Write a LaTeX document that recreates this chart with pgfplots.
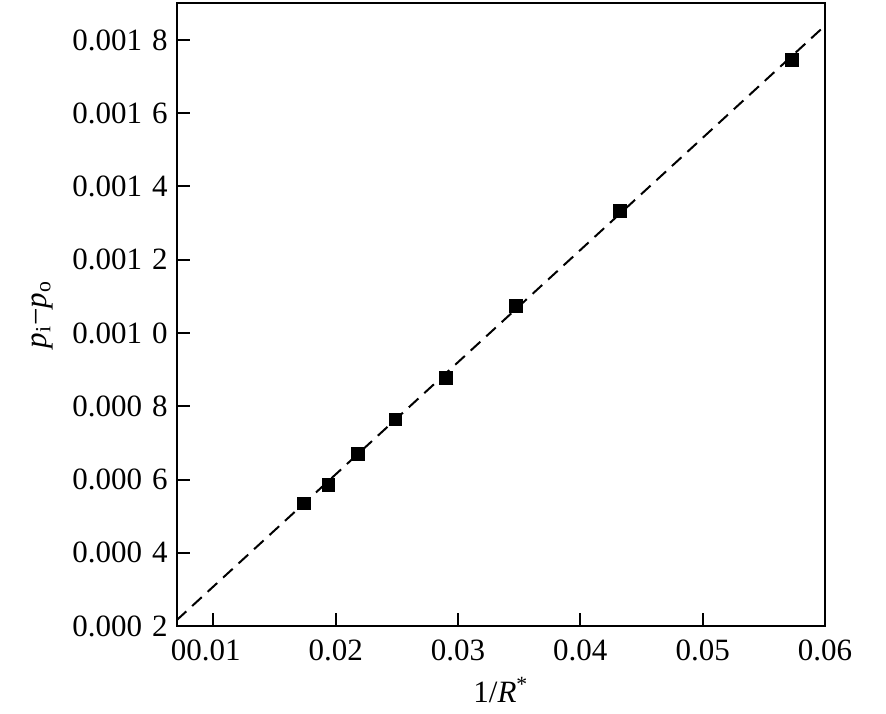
\documentclass[border=0pt]{standalone}
\usepackage{fontspec}
\setmainfont{Liberation Serif}
\usepackage{pgfplots}
\pgfplotsset{compat=1.18}

\newcommand{\gp}{\hspace{5pt}}

\begin{document}
\begin{tikzpicture}
\begin{axis}[
  name=main,
  scale only axis,
  width=324.2pt, height=311.4pt,
  xmin=0.007, xmax=0.06,
  ymin=0.0002, ymax=0.0019,
  axis line style={line width=1.1pt},
  tick style={line width=1pt, black},
  tick align=inside,
  major tick length=6.5pt,
  xtick pos=bottom, ytick pos=left,
  xtick={0.01,0.02,0.03,0.04,0.05,0.06},
  xticklabels={\llap{0}0.01,0.02,0.03,0.04,0.05,0.06},
  ytick={0.0002,0.0004,0.0006,0.0008,0.0010,0.0012,0.0014,0.0016,0.0018},
  yticklabels={0.000\gp 2,0.000\gp 4,0.000\gp 6,0.000\gp 8,0.001\gp 0,0.001\gp 2,0.001\gp 4,0.001\gp 6,0.001\gp 8},
  scaled x ticks=false, scaled y ticks=false,
  ticklabel style={font=\fontsize{15.5}{18}\selectfont},
  xticklabel style={yshift=-3.5pt},
  yticklabel style={xshift=-1pt},
  label style={font=\fontsize{15.5}{18}\selectfont},
  xlabel={1/\textit{R}\textsuperscript{*}},
  ylabel={\textit{p}\textsubscript{i}−\textit{p}\textsubscript{o}},
  xlabel style={at={(axis description cs:0.5,-0.1028)}, anchor=center},
  ylabel style={at={(axis description cs:-0.2077,0.5)}, anchor=center},
]
% fitted line
\addplot[black, line width=1pt, dash pattern=on 6.5pt off 4pt] coordinates {
  (0.007, 0.000216)
  (0.060, 0.001839)
};
% measured points
\addplot[only marks, mark=square*, mark size=3.2pt, mark options={fill=black, draw=black}] coordinates {
  (0.01742, 0.000535)
  (0.01940, 0.000585)
  (0.02181, 0.000670)
  (0.02488, 0.000764)
  (0.02900, 0.000877)
  (0.03475, 0.001075)
  (0.04325, 0.001334)
  (0.05729, 0.001746)
};
\coordinate (sw) at (rel axis cs:0,0);
\coordinate (ne) at (rel axis cs:1,1);
\end{axis}
\pgfresetboundingbox
\path[use as bounding box] ([shift={(-88.35pt,-43.65pt)}]sw) rectangle ([shift={(30.5pt,1.65pt)}]ne);
\end{tikzpicture}
\end{document}
